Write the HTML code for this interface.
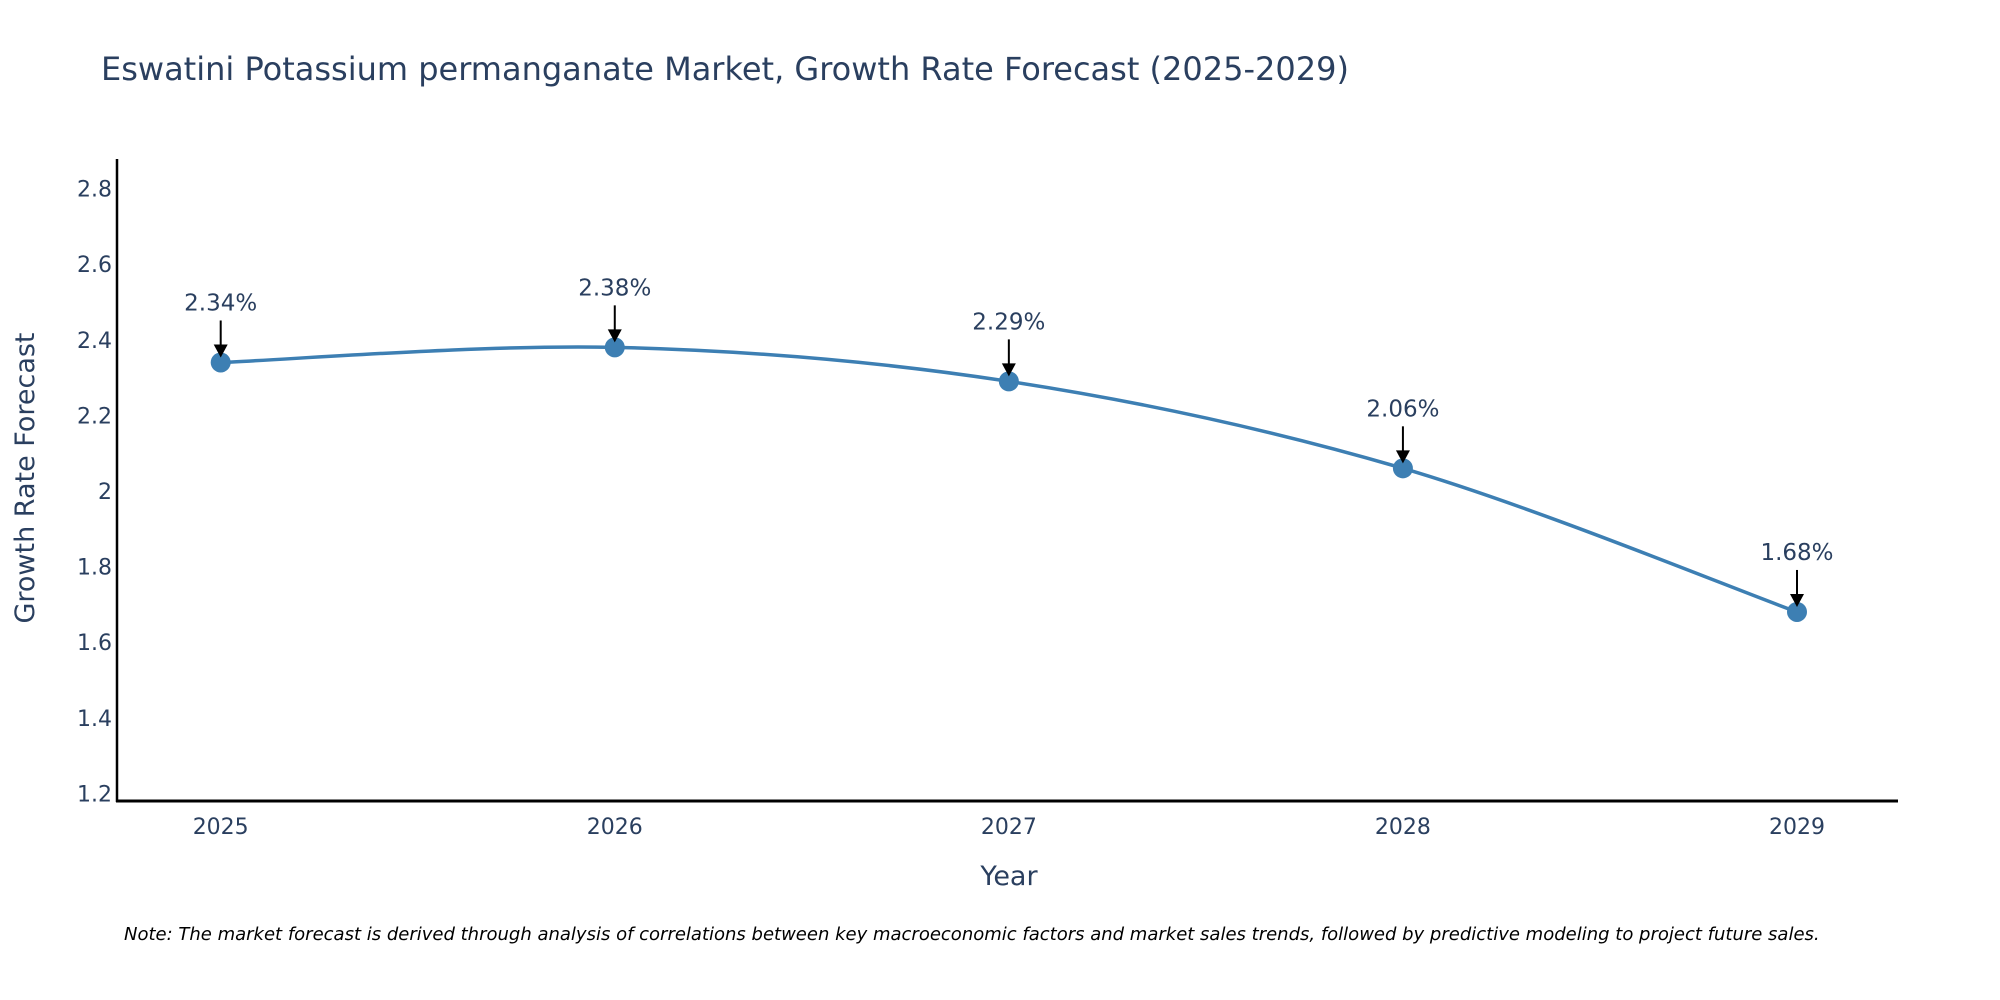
<!DOCTYPE html>
<html><head><meta charset="utf-8"><style>
html,body{margin:0;padding:0;background:#fff;}
svg{display:block;font-family:"DejaVu Sans","Liberation Sans",sans-serif;}
</style></head><body>
<svg id="chart" width="2000" height="1000" viewBox="0 0 2000 1000">
<text x="101" y="80" font-size="32" fill="#2a3f5f">Eswatini Potassium permanganate Market, Growth Rate Forecast (2025-2029)</text>
<g id="yticks"></g>
<g id="xticks"></g>
<line x1="117" y1="159" x2="117" y2="802" stroke="#000" stroke-width="2.5"/>
<line x1="116" y1="801" x2="1898" y2="801" stroke="#000" stroke-width="3"/>
<path id="line" fill="none" stroke="#3d7fb3" stroke-width="3.5"/>
<g id="points"></g>
<g id="annos"></g>
<text x="1009" y="885" font-size="27" fill="#2a3f5f" text-anchor="middle">Year</text>
<text transform="translate(34,478) rotate(-90)" font-size="27" fill="#2a3f5f" text-anchor="middle">Growth Rate Forecast</text>
<text x="124" y="940" font-size="18" font-style="italic" fill="#000">Note: The market forecast is derived through analysis of correlations between key macroeconomic factors and market sales trends, followed by predictive modeling to project future sales.</text>
</svg>
<script>
const years = [2025, 2026, 2027, 2028, 2029];
const values = [2.34, 2.38, 2.29, 2.06, 1.68];
const labels = ["2.34%", "2.38%", "2.29%", "2.06%", "1.68%"];
const yTicks = [1.2, 1.4, 1.6, 1.8, 2, 2.2, 2.4, 2.6, 2.8];
const yTickLabels = ["1.2", "1.4", "1.6", "1.8", "2", "2.2", "2.4", "2.6", "2.8"];

const NS = "http://www.w3.org/2000/svg";
function xs(yr){ return 220.7 + (yr - 2025) * (1797 - 220.7) / 4; }
function ys(v){ return 793.4 - (v - 1.2) / 0.2 * 75.6; }
function mk(tag, attrs, parent){ const e = document.createElementNS(NS, tag); for (const k in attrs) e.setAttribute(k, attrs[k]); parent.appendChild(e); return e; }

const yt = document.getElementById('yticks');
yTicks.forEach((v, i) => {
  const t = mk('text', {x: 112, y: ys(v) + 8, 'font-size': 22, fill: '#2a3f5f', 'text-anchor': 'end'}, yt);
  
  
  t.textContent = yTickLabels[i];
});
const xt = document.getElementById('xticks');
years.forEach(yr => {
  const t = mk('text', {x: xs(yr), y: 834, 'font-size': 22, fill: '#2a3f5f', 'text-anchor': 'middle'}, xt);
  
  
  t.textContent = String(yr);
});

const P = years.map((yr, i) => [xs(yr), ys(values[i])]);
let d = `M${P[0][0]},${P[0][1]}`;
const s = 1/6;
for (let i = 0; i < P.length - 1; i++) {
  const p0 = P[Math.max(0, i-1)], p1 = P[i], p2 = P[i+1], p3 = P[Math.min(P.length-1, i+2)];
  const c1 = [p1[0] + (p2[0]-p0[0])*s, p1[1] + (p2[1]-p0[1])*s];
  const c2 = [p2[0] - (p3[0]-p1[0])*s, p2[1] - (p3[1]-p1[1])*s];
  d += ` C${c1[0]},${c1[1]} ${c2[0]},${c2[1]} ${p2[0]},${p2[1]}`;
}
document.getElementById('line').setAttribute('d', d);

const pts = document.getElementById('points');
const an = document.getElementById('annos');
P.forEach((p, i) => {
  const c = mk('circle', {cx: p[0], cy: p[1], r: 10, fill: '#3d7fb3'}, pts);
  
  
  const l = mk('line', {x1: p[0], y1: p[1] - 42, x2: p[0], y2: p[1] - 14, stroke: '#000', 'stroke-width': 2}, an);
  
  
  const h = mk('polygon', {points: `${p[0]-7},${p[1]-18} ${p[0]+7},${p[1]-18} ${p[0]},${p[1]-5}`, fill: '#000'}, an);
  
  
  const t = mk('text', {x: p[0], y: p[1] - 52, 'font-size': 23, fill: '#2a3f5f', 'text-anchor': 'middle'}, an);
  
  
  t.textContent = labels[i];
});
</script>
</body></html>
